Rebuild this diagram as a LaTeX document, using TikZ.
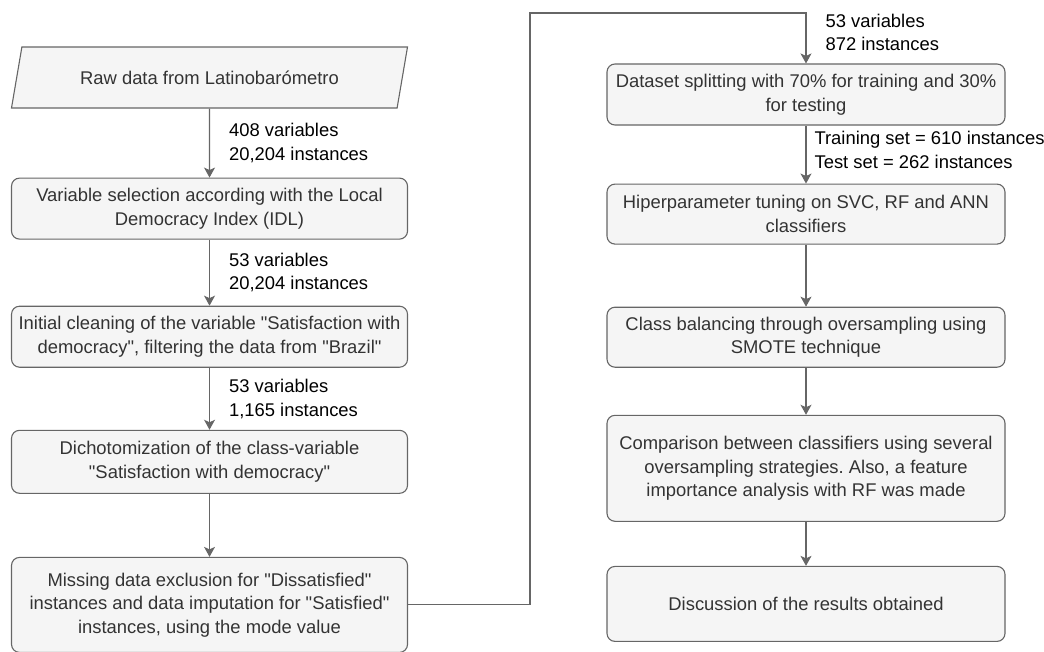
\documentclass[tikz,border=0pt]{standalone}
\usepackage{fontspec}
\setmainfont{Liberation Sans}[Ligatures=TeXOff]
\usetikzlibrary{arrows.meta,calc,positioning,shapes.geometric}
\definecolor{boxfill}{HTML}{F5F5F5}
\definecolor{boxline}{HTML}{666666}
\definecolor{boxtext}{HTML}{333333}
\frenchspacing
\tikzset{%
	process/.style = {draw=boxline, fill=boxfill, rectangle, rounded corners=8pt, line width=1.1pt, text=boxtext, align=center, minimum width=396pt, minimum height=61pt, inner sep=2pt},
	inout/.style   = {draw=boxline, fill=boxfill, trapezium, trapezium left angle=63, trapezium right angle=117, trapezium stretches body, line width=1.1pt, text=boxtext, minimum width=396pt, minimum height=61pt},
	lbl/.style     = {text=black, align=left, inner sep=0pt, anchor=west},
	arrow/.style   = {line width=1.1pt, draw=boxline, -{Stealth[length=10pt,width=11pt,inset=2.5pt]}},
}

\begin{document}
\begin{tikzpicture}[x=1pt,y=-1pt,font=\fontsize{18.4}{23.5}\selectfont]
	\useasboundingbox (0,0) rectangle (1044,651);
	% left column
	\node [inout] (raw) at (209.5,77.5) {Raw data from Latinobarómetro};
	\node [process, below=69pt of raw] (sel) {Variable selection according with the Local\\Democracy Index (IDL)};
	\node [process, below=66pt of sel] (clean) {Initial cleaning of the variable "Satisfaction with\\democracy", filtering the data from "Brazil"};
	\node [process, below=62pt of clean, minimum height=63pt] (dicho) {Dichotomization of the class-variable\\"Satisfaction with democracy"};
	\node [process, below=63pt of dicho, minimum height=95pt] (miss) {Missing data exclusion for "Dissatisfied"\\instances and data imputation for "Satisfied"\\instances, using the mode value};
	% right column
	\node [process, minimum width=398pt] (split) at (806,94.5) {Dataset splitting with 70\% for training and 30\%\\for testing};
	\node [process, minimum width=398pt, minimum height=60pt, below=58pt of split] (tune) {Hiperparameter tuning on SVC, RF and ANN\\classifiers};
	\node [process, minimum width=398pt, minimum height=60pt, below=62pt of tune] (smote) {Class balancing through oversampling using\\SMOTE technique};
	\node [process, minimum width=398pt, minimum height=106pt, below=47pt of smote] (comp) {Comparison between classifiers using several\\oversampling strategies. Also, a feature\\importance analysis with RF was made};
	\node [process, minimum width=398pt, minimum height=75pt, below=44pt of comp] (disc) {Discussion of the results obtained};
	\coordinate (turn) at (530,13);
	\coordinate (top) at (split.north |- turn);

	\draw[arrow] (raw) -- node[lbl, xshift=19pt] {408 variables\\20,204 instances} (sel);
	\draw[arrow] (sel) -- node[lbl, xshift=19pt] {53 variables\\20,204 instances} (clean);
	\draw[arrow] (clean) -- node[lbl, xshift=19pt] {53 variables\\1,165 instances} (dicho);
	\draw[arrow] (dicho) -- (miss);
	\draw[arrow] (miss.east) -| (turn) -- (top) -- node[lbl, xshift=19pt, yshift=6pt] {53 variables\\872 instances} (split);
	\draw[arrow] (split) -- node[lbl, xshift=8pt, yshift=4.5pt] {Training set = 610 instances\\Test set = 262 instances} (tune);
	\draw[arrow] (tune) -- (smote);
	\draw[arrow] (smote) -- (comp);
	\draw[arrow] (comp) -- (disc);
\end{tikzpicture}
\end{document}
